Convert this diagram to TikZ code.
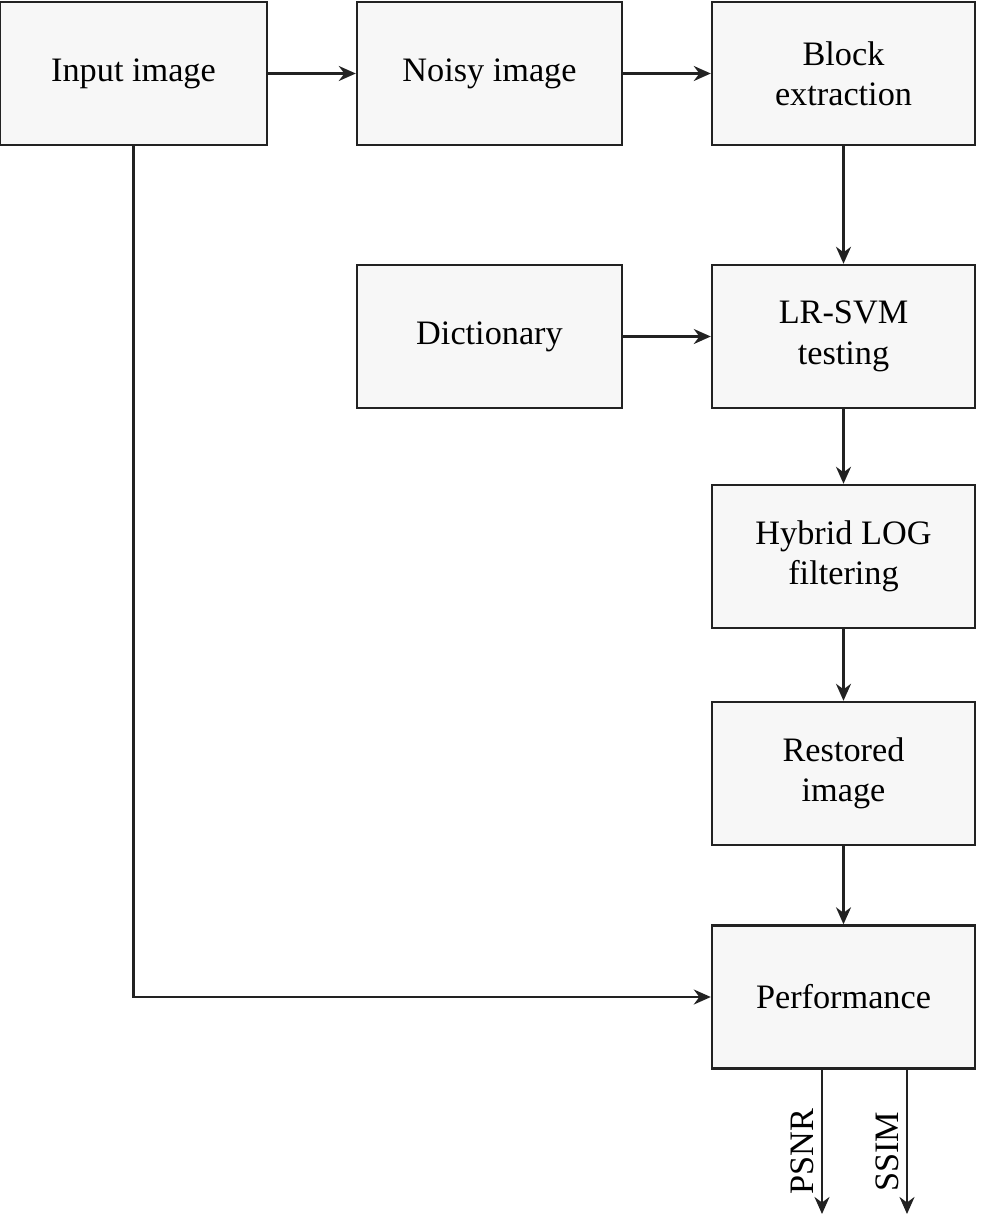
\documentclass[tikz,border=0pt]{standalone}
\usepackage{fontspec}
\setmainfont{Liberation Serif}
\usetikzlibrary{arrows.meta}
\definecolor{boxfill}{HTML}{F7F7F7}
\definecolor{linegray}{HTML}{222222}
\tikzset{
	stage/.style={draw=linegray, fill=boxfill, line width=1.4pt, minimum width=5.3cm, minimum height=2.86cm, align=center, font=\fontsize{19.5}{23}\selectfont, inner sep=0pt},
	flow/.style={draw=linegray, line width=1.4pt, -{Stealth[length=0.34cm, width=0.3cm]}}
}
\begin{document}
\begin{tikzpicture}[x=0.02cm, y=-0.02cm]
	\useasboundingbox (0,0) rectangle (981,1217);
	\node[stage, minimum width=5.34cm] (input) at (133.5,73.5) {Input image};
	\node[stage] (noisy) at (489.5,73.5) {Noisy image};
	\node[stage, minimum width=5.26cm] (block) at (843.5,73.5) {Block\\extraction};
	\node[stage] (dict) at (489.5,336.5) {Dictionary};
	\node[stage, minimum width=5.26cm] (lrsvm) at (843.5,336.5) {LR-SVM\\testing};
	\node[stage, minimum width=5.26cm] (hybrid) at (843.5,556.5) {Hybrid LOG\\filtering};
	\node[stage, minimum width=5.26cm] (restored) at (843.5,773.5) {Restored\\image};
	\node[stage, minimum width=5.26cm] (perf) at (843.5,997) {Performance};
	\coordinate (psnr) at (822,1214);
	\coordinate (ssim) at (907,1214);
	% main chain
	\draw[flow] (input) -- (noisy);
	\draw[flow] (noisy) -- (block);
	\draw[flow] (block) -- (lrsvm);
	\draw[flow] (dict) -- (lrsvm);
	\draw[flow] (lrsvm) -- (hybrid);
	\draw[flow] (hybrid) -- (restored);
	\draw[flow] (restored) -- (perf);
	% reference image to performance
	\draw[flow] (input.south) |- (perf.west);
	% outputs
	\draw[flow] (perf.south -| psnr) -- node[pos=0.57, rotate=90, anchor=south, inner sep=4pt, font=\fontsize{19.5}{23}\selectfont] {PSNR} (psnr);
	\draw[flow] (perf.south -| ssim) -- node[pos=0.57, rotate=90, anchor=south, inner sep=4pt, font=\fontsize{19.5}{23}\selectfont] {SSIM} (ssim);
\end{tikzpicture}
\end{document}
